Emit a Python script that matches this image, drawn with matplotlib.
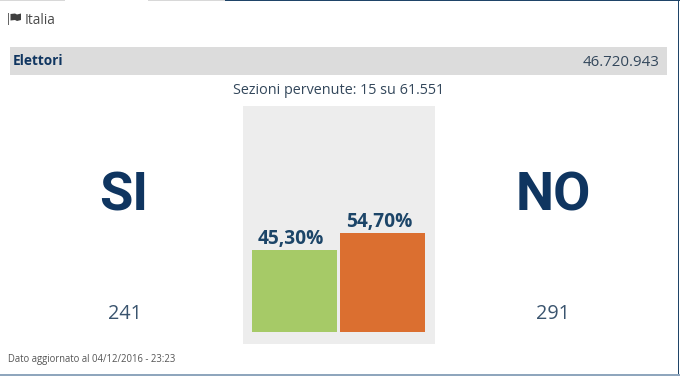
import matplotlib
matplotlib.use("Agg")
import matplotlib.pyplot as plt
from matplotlib.patches import Rectangle, Polygon

categories = ["SI", "NO"]
percent = [45.30, 54.70]
percent_labels = ["45,30%", "54,70%"]
seats = ["241", "291"]
bar_colors = ["#A6CA67", "#DB6F30"]

W, H = 680, 376
NAVY = "#0F3560"
FONT = "Open Sans"
plt.rcParams["font.family"] = [FONT, "DejaVu Sans"]

fig = plt.figure(figsize=(W / 100, H / 100), dpi=100, facecolor="white")
bg = fig.add_axes([0, 0, 1, 1])
bg.set_xlim(0, W)
bg.set_ylim(H, 0)
bg.axis("off")

# frame remnants
bg.add_patch(Rectangle((0, 0), 65, 1.2, color="#D8D8D8", lw=0))
bg.add_patch(Rectangle((148, 0), 77, 1.2, color="#D8D8D8", lw=0))
bg.add_patch(Rectangle((225, 0), 455, 1.4, color="#1F4468", lw=0))
bg.add_patch(Rectangle((677.5, 0), 1.5, 376, color="#1F4468", lw=0))
bg.add_patch(Rectangle((0, 374.4), 680, 1.6, color="#8FA6BD", lw=0))

# flag icon
bg.add_patch(Rectangle((8, 13), 1.2, 12, color="#666666", lw=0))
bg.add_patch(Polygon([(10.5, 14), (15, 13.5), (17, 14.5), (21, 13.5), (21, 20), (17, 21), (15, 20), (10.5, 20.5)],
                     closed=True, color="#3F3F3F", lw=0))
bg.text(25, 21, "Italia", fontsize=9.8, color="#4A4A4A", va="center", ha="left")

# Elettori band
bg.add_patch(Rectangle((9.5, 47), 657.5, 28, color="#DCDCDC", lw=0))
bg.text(13, 61, "Elettori", fontsize=9.8, fontweight="bold", color=NAVY, va="center", ha="left")
bg.text(659.5, 62, "46.720.943", fontsize=10.8, color="#33475B", va="center", ha="right")

bg.text(338.5, 90, "Sezioni pervenute: 15 su 61.551", fontsize=10.4, color="#33475B", va="center", ha="center")

# central panel
bg.add_patch(Rectangle((242.5, 106), 192, 238, color="#EDEDED", lw=0))

# side labels
bg.text(124, 210.5, categories[0], fontsize=39, fontweight="bold", color=NAVY, va="baseline", ha="center", family="Roboto")
bg.text(553, 210.5, categories[1], fontsize=39, fontweight="bold", color=NAVY, va="baseline", ha="center", family="Roboto")
bg.text(124.5, 314, seats[0], fontsize=14.2, color="#3A546E", va="center", ha="center")
bg.text(552.5, 314, seats[1], fontsize=14.2, color="#3A546E", va="center", ha="center")

bg.text(8, 359.5, "Dato aggiornato al 04/12/2016 - 23:23", fontsize=6.85, color="#555555", va="center", ha="left")

# bars: axis spans pixel x 252..425, y bottom 332, 1.81 px per percent
x0, x1 = 252, 425
y_bottom = 332
scale = 1.81
top_val = 60
ax = fig.add_axes([x0 / W, 1 - y_bottom / H, (x1 - x0) / W, top_val * scale / H])
ax.patch.set_alpha(0)
ax.axis("off")
ax.set_xlim(-0.5, 1.5)
ax.set_ylim(0, top_val)
width = 85 / ((x1 - x0) / 2.0)
xs = [-0.5 + width / 2, 1.5 - width / 2]
ax.bar(xs, percent, width=width, color=bar_colors, linewidth=0)
for x, v, lab in zip(xs, percent, percent_labels):
    ax.annotate(lab, (x, v), xytext=(-2.3, 1), textcoords="offset points",
                ha="center", va="bottom", fontsize=13.8, fontweight="bold", color="#1C4568")

fig.savefig("out.png", dpi=100)
